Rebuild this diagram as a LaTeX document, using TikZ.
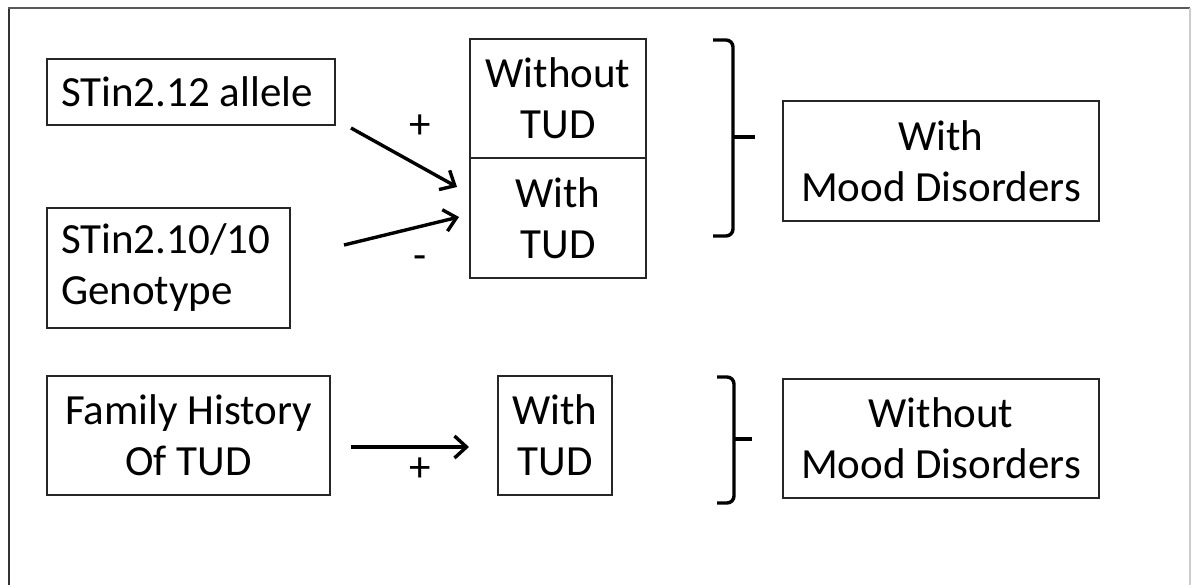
\documentclass[tikz,border=0pt]{standalone}
\usepackage{fontspec}
\setmainfont{Carlito}
\usetikzlibrary{arrows.meta}
\begin{document}
\begin{tikzpicture}[x=1pt,y=-1pt,
  txt/.style={font=\fontsize{43}{51}\selectfont},
  box/.style={txt, draw=black!85, line width=2pt, inner sep=0pt, align=center},
  arr/.style={line width=3.4pt, -{Straight Barb[length=12pt,width=22pt,line width=3.4pt]}},
  brace/.style={line width=3.4pt, rounded corners=7pt}]
\useasboundingbox (0,0) rectangle (1192,585);
% outer frame
\draw[black!80, line width=2.2pt] (9,585) -- (9,8);
\draw[black!65, line width=2.2pt] (8,8) -- (1190,8);
\draw[black!20, line width=2pt] (1190,8) -- (1190,585);
% boxes
\node[box, minimum width=288pt, minimum height=66pt, align=flush left, text width=260pt] (a) at (191,92) {STin2.12 allele};
\node[box, minimum width=243pt, minimum height=120pt, align=flush left, text width=215pt] (g) at (168.5,268) {STin2.10/10\\Genotype};
\node[box, minimum width=176pt, minimum height=119pt] (wo) at (558,98.5) {Without\\TUD};
\node[box, minimum width=176pt, minimum height=120pt] (w1) at (558,218) {With\\TUD};
\node[box, minimum width=316pt, minimum height=120pt] (md) at (941,161) {With\\Mood Disorders};
\node[box, minimum width=283pt, minimum height=119pt] (fh) at (188.5,435.5) {Family History\\Of TUD};
\node[box, minimum width=114pt, minimum height=119pt] (w2) at (555,435.5) {With\\TUD};
\node[box, minimum width=316pt, minimum height=119pt] (nmd) at (941,438.5) {Without\\Mood Disorders};
% arrows
\draw[arr] ([shift={(15,2)}]a.south east) -- ([shift={(-12,-31)}]w1.west);
\draw[arr] ([shift={(53,-23)}]g.east) -- ([shift={(-10,-1)}]w1.west);
\draw[arr] ([shift={(20,11.5)}]fh.east) -- ([shift={(-28,11.5)}]w2.west);
% signs
\node[txt] (p1) at (420,127) {+};
\node[txt] (m1) at (420,263) {-};
\node[txt] (p2) at (420,470) {+};
% braces
\draw[brace] (713,40) -- (733,40) -- (733,236) -- (713,236);
\draw[line width=3.4pt] (733,137) -- (755,137);
\draw[brace] (717,377) -- (734,377) -- (734,503) -- (717,503);
\draw[line width=3.4pt] (734,439) -- (752,439);
\end{tikzpicture}
\end{document}
